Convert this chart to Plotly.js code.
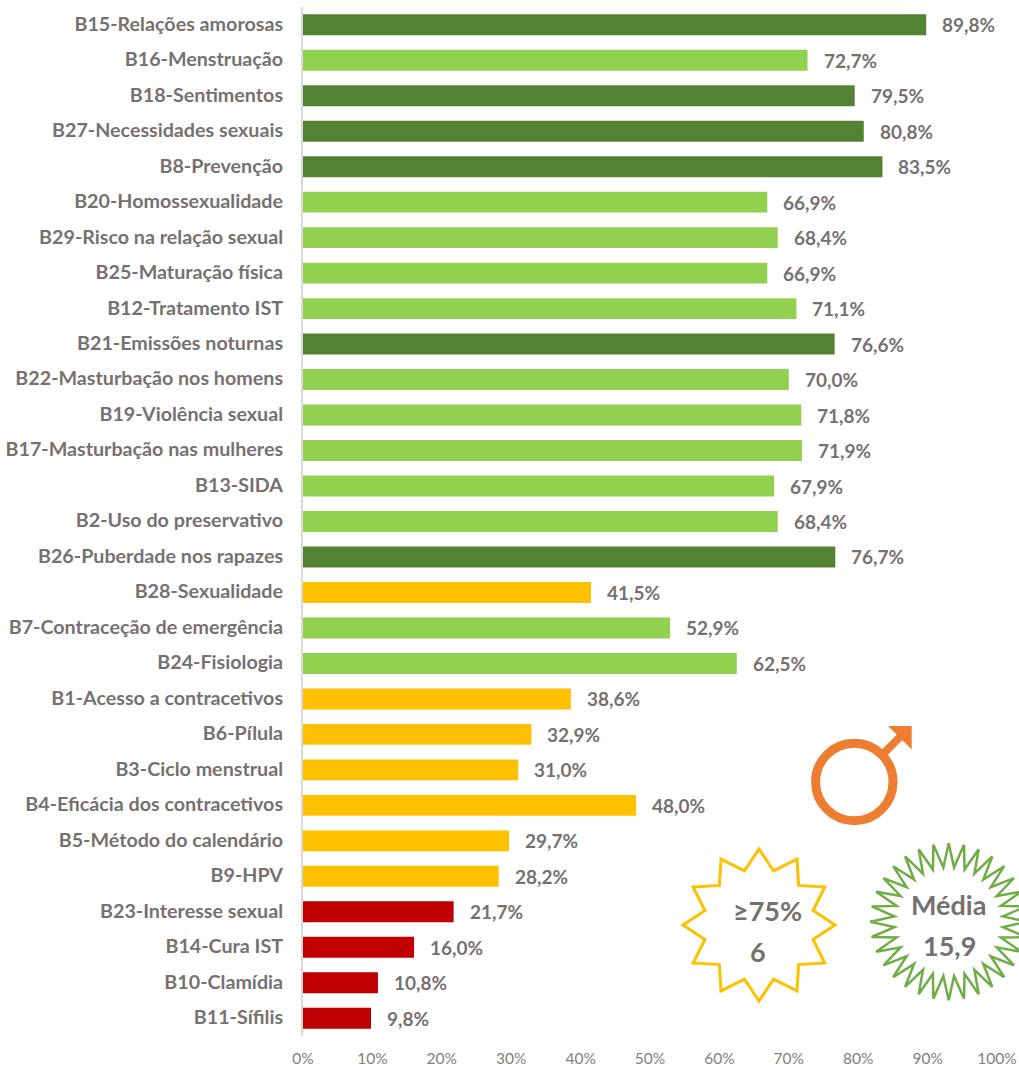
<!DOCTYPE html>
<html><head><meta charset="utf-8">
<script src="https://cdn.plot.ly/plotly-3.0.1.min.js"></script>
<style>html,body{margin:0;padding:0;background:#fff;overflow:hidden}#c{width:1019px;height:1065px}</style>
</head><body><div id="c"></div>
<script>
const categories = ["B15-Relações amorosas","B16-Menstruação","B18-Sentimentos","B27-Necessidades sexuais","B8-Prevenção","B20-Homossexualidade","B29-Risco na relação sexual","B25-Maturação física","B12-Tratamento IST","B21-Emissões noturnas","B22-Masturbação nos homens","B19-Violência sexual","B17-Masturbação nas mulheres","B13-SIDA","B2-Uso do preservativo","B26-Puberdade nos rapazes","B28-Sexualidade","B7-Contraceção de emergência","B24-Fisiologia","B1-Acesso a contracetivos","B6-Pílula","B3-Ciclo menstrual","B4-Eficácia dos contracetivos","B5-Método do calendário","B9-HPV","B23-Interesse sexual","B14-Cura IST","B10-Clamídia","B11-Sífilis"];
const values = [89.8,72.7,79.5,80.8,83.5,66.9,68.4,66.9,71.1,76.6,70.0,71.8,71.9,67.9,68.4,76.7,41.5,52.9,62.5,38.6,32.9,31.0,48.0,29.7,28.2,21.7,16.0,10.8,9.8];
const xTicks = [0,10,20,30,40,50,60,70,80,90,100];
const tierColors = {high:"#548235",mid:"#92D050",low:"#FFC000",bad:"#C00000"};
const colorOf = v => v>=75?tierColors.high : v>=50?tierColors.mid : v>=25?tierColors.low : tierColors.bad;
const labelOf = v => v.toFixed(1).replace(".",",")+"%";

const W=1019,H=1065,mL=303,mR=22,mT=7,mB=29;
const px = x => (x-mL)/(W-mL-mR);
const py = y => 1-(y-mT)/(H-mT-mB);
const FONT="Lato, 'Open Sans', sans-serif", TXT="#767171";
function star(cx,cy,n,ro,ri){
  let d="";
  for(let i=0;i<2*n;i++){
    const a=-Math.PI/2+i*Math.PI/n, r=i%2?ri:ro;
    d+=(i?"L":"M")+px(cx+r*Math.cos(a)).toFixed(5)+","+py(cy+r*Math.sin(a)).toFixed(5);
  }
  return d+"Z";
}
const paper={xref:"paper",yref:"paper"};
const shapes=[
  {...paper,type:"path",path:star(759,925,12,76,56),line:{color:"#FFC000",width:3},fillcolor:"rgba(0,0,0,0)"},
  {...paper,type:"path",path:star(948.7,921.7,32,78.5,54.5),line:{color:"#70AD47",width:2.5},fillcolor:"rgba(0,0,0,0)"},
  {...paper,type:"circle",x0:px(854.3-38.7),x1:px(854.3+38.7),y0:py(782+38.7),y1:py(782-38.7),line:{color:"#ED7D31",width:9},fillcolor:"rgba(0,0,0,0)"},
  {...paper,type:"line",x0:px(884),y0:py(753),x1:px(901),y1:py(736),line:{color:"#ED7D31",width:8}},
  {...paper,type:"path",path:`M${px(888)},${py(726)}L${px(911.7)},${py(726)}L${px(911.7)},${py(749.5)}Z`,line:{width:0},fillcolor:"#ED7D31"}
];
const note=(x,y,text)=>({...paper,x:px(x),y:py(y),text,showarrow:false,xanchor:"center",yanchor:"middle",font:{family:FONT,size:27,color:TXT,weight:700}});
const annotations=categories.map((c,i)=>({x:values[i],y:c,xref:"x",yref:"y",text:labelOf(values[i]),showarrow:false,xanchor:"left",yanchor:"middle",xshift:14,yshift:0,font:{family:FONT,size:19,color:TXT,weight:700}}))
 .concat([note(767,910,"≥75%"),note(758,951,"6"),note(948.7,904,"Média"),note(949,945,"15,9")]);

Plotly.newPlot("c",[{type:"bar",orientation:"h",y:categories,x:values,marker:{color:values.map(colorOf)},width:0.59,cliponaxis:false,hoverinfo:"none"}],{
  width:W,height:H,margin:{l:mL,r:mR,t:mT,b:mB},paper_bgcolor:"#fff",plot_bgcolor:"#fff",showlegend:false,
  xaxis:{range:[0,100],tickvals:xTicks,ticktext:xTicks.map(t=>t+"%"),showgrid:false,zeroline:false,showline:false,ticks:"",ticklabelstandoff:11,tickfont:{family:FONT,size:15.5,color:"#808080"}},
  yaxis:{type:"category",autorange:false,range:[categories.length-0.5,-0.5],showgrid:false,zeroline:false,showline:true,linecolor:"#D9D9D9",linewidth:2,ticks:"",ticklabelstandoff:14,ticklabelshift:1,tickfont:{family:FONT,size:19.7,color:TXT,weight:700}},
  shapes,annotations
},{displayModeBar:false,staticPlot:true});
</script></body></html>
